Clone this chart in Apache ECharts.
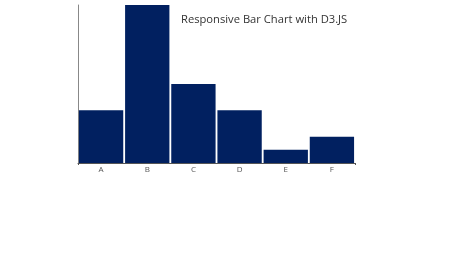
<!DOCTYPE html>
<html><head><meta charset="utf-8">
<script src="https://cdn.jsdelivr.net/npm/echarts@6/dist/echarts.min.js"></script>
<style>html,body{margin:0;padding:0;background:#fff}#c{width:474px;height:266px}</style>
</head><body><div id="c"></div>
<script>
const categories = ['A','B','C','D','E','F'];
const values = [4, 12, 6, 4, 1, 2];
const titleText = 'Responsive Bar Chart with D3.JS';
const chart = echarts.init(document.getElementById('c'), null, {renderer:'canvas'});
chart.setOption({
  animation:false,
  title:{text:titleText, left:181, top:14, padding:0, textStyle:{fontFamily:'Open Sans', fontSize:11.2, fontWeight:'normal', color:'#333'}},
  grid:{left:78, right:119, top:5, bottom:103},
  xAxis:[{type:'category', data:categories,
    axisLine:{lineStyle:{color:'#555', width:1}},
    axisTick:{show:false},
    axisLabel:{fontFamily:'Open Sans', fontSize:8, color:'#555', margin:3}},
    {type:'value', position:'bottom', min:0, max:categories.length, interval:categories.length,
    axisLine:{show:false}, axisTick:{show:true, length:2, lineStyle:{color:'#555'}},
    axisLabel:{show:false}, splitLine:{show:false}}],
  yAxis:{type:'value', min:0, max:12, interval:12,
    axisLine:{show:true, lineStyle:{color:'#888', width:1}},
    axisTick:{show:false}, axisLabel:{show:false}, splitLine:{show:false}},
  series:[{type:'bar', data:values, barCategoryGap:'4%', itemStyle:{color:'#012060'}}]
});
</script></body></html>
